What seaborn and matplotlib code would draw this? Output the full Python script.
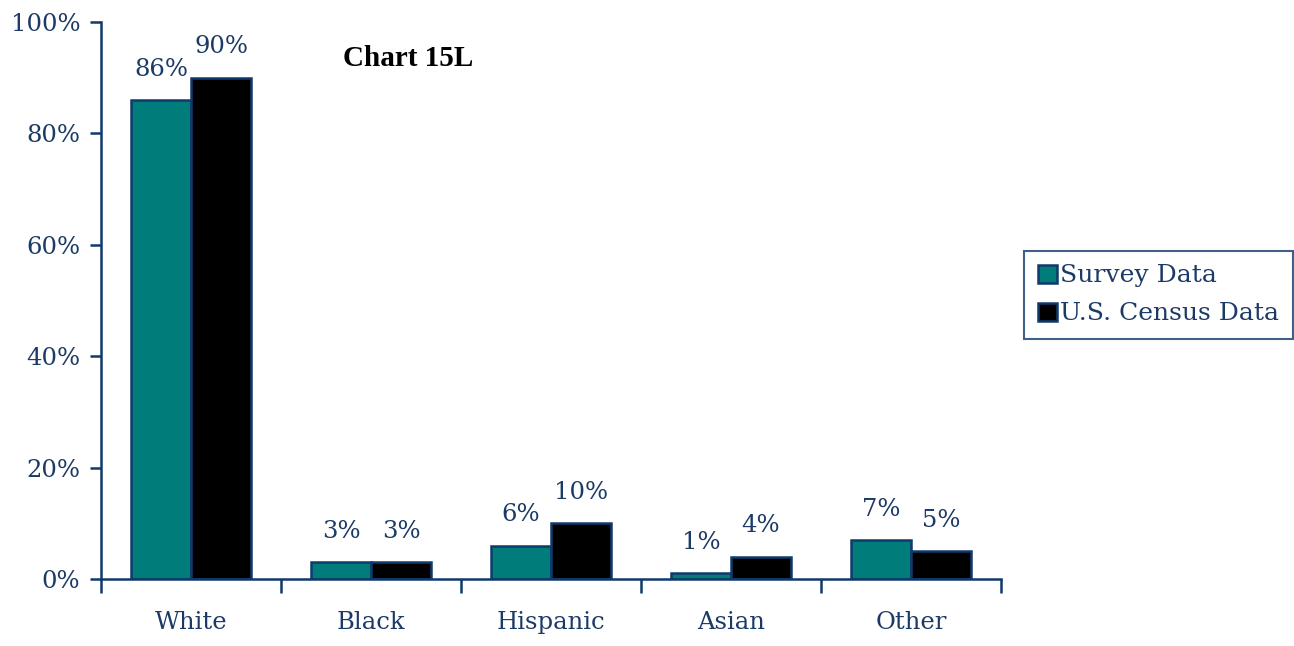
import matplotlib
matplotlib.use("Agg")
import matplotlib.pyplot as plt
import seaborn as sns
import pandas as pd
import numpy as np
from matplotlib.patches import Patch

categories = ["White", "Black", "Hispanic", "Asian", "Other"]
survey = [86, 3, 6, 1, 7]
census = [90, 3, 10, 4, 5]
series_names = ["Survey Data", "U.S. Census Data"]
y_ticks = [0, 20, 40, 60, 80, 100]

navy = "#0f3a6b"
text_col = "#1c3a66"
colors = ["#007c7a", "#000000"]

df = pd.DataFrame({
    "category": categories * 2,
    "value": survey + census,
    "series": [series_names[0]] * len(categories) + [series_names[1]] * len(categories),
})

sns.set_style("white")
plt.rcParams["font.family"] = ["DejaVu Serif"]

fig = plt.figure(figsize=(12.94, 6.46), dpi=100)
ax = fig.add_axes([101 / 1294, 1 - 579 / 646, 900 / 1294, 557 / 646])

sns.barplot(data=df, x="category", y="value", hue="series", order=categories,
            hue_order=series_names, palette=colors, width=2 / 3, gap=0,
            edgecolor=navy, linewidth=1.8, saturation=1, ax=ax, legend=False)

fs = 17.5
ax.set_xlim(-0.5, len(categories) - 0.5)
ax.set_ylim(0, 100)
ax.set_yticks(y_ticks)
ax.set_yticklabels([f"{v}%" for v in y_ticks], fontsize=fs, color=text_col)
ax.set_xticks(range(len(categories)))
ax.set_xticklabels(categories, fontsize=fs, color=text_col)
ax.set_xticks(np.arange(-0.5, len(categories)), minor=True)
ax.tick_params(axis="x", which="both", bottom=True)
ax.tick_params(axis="y", which="major", left=True)
ax.tick_params(axis="x", which="major", length=0, pad=23)
ax.tick_params(axis="x", which="minor", length=10, width=1.8, color=navy, direction="out")
ax.tick_params(axis="y", length=8, width=1.8, color=navy, direction="out", pad=7)
ax.set_xlabel("")
ax.set_ylabel("")

for side in ["top", "right"]:
    ax.spines[side].set_visible(False)
for side in ["left", "bottom"]:
    ax.spines[side].set_color(navy)
    ax.spines[side].set_linewidth(1.8)

for container in ax.containers:
    ax.bar_label(container, labels=[f"{v:.0f}%" for v in container.datavalues],
                 padding=14, fontsize=fs, color=text_col)

ax.text(307 / 900, 0.935, "Chart 15L", transform=ax.transAxes, fontsize=21,
        fontweight="bold", color="black", ha="center", va="center",
        family="Liberation Serif")

handles = [Patch(facecolor=c, edgecolor=navy, linewidth=1.8) for c in colors]
leg = fig.legend(handles, series_names, loc="center left",
                 bbox_to_anchor=(1024 / 1294, 1 - 295 / 646), frameon=True,
                 fontsize=18, handlelength=0.75, handleheight=0.75, handletextpad=0.15,
                 borderpad=0.55, labelspacing=0.6, fancybox=False, borderaxespad=0)
leg.get_frame().set_edgecolor(navy)
leg.get_frame().set_linewidth(1.5)
for t in leg.get_texts():
    t.set_color(text_col)

fig.savefig("out.png", dpi=100)
